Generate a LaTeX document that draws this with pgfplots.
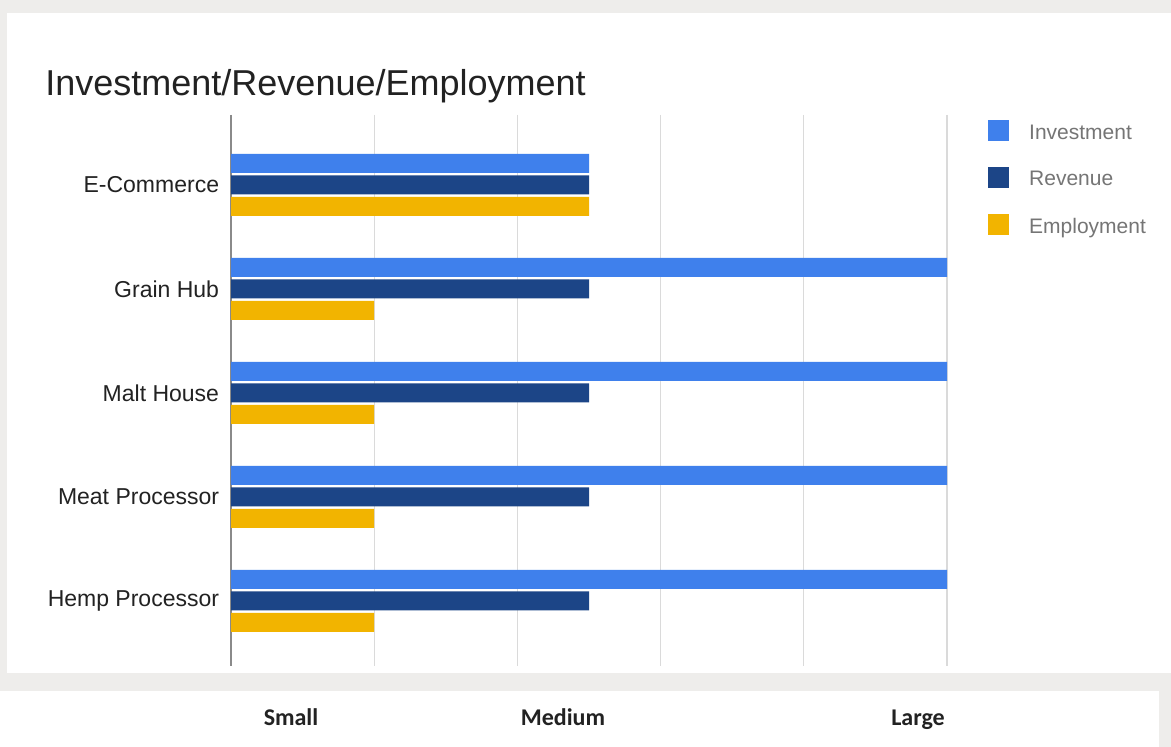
\documentclass[border=0pt]{standalone}
\usepackage{pgfplots}
\pgfplotsset{compat=1.18}
\usepackage{fontspec}
\setmainfont{Liberation Sans}
\newfontfamily\carlito{Carlito}
\definecolor{bggray}{HTML}{EEEDEB}
\definecolor{inv}{HTML}{3F80EC}
\definecolor{rev}{HTML}{1C4587}
\definecolor{emp}{HTML}{F2B400}
\definecolor{gridc}{HTML}{DADADA}
\definecolor{axc}{HTML}{8A8A8A}
\definecolor{lbl}{HTML}{222222}
\definecolor{legtxt}{HTML}{757575}
\begin{document}
\begin{tikzpicture}
\fill[bggray] (0,0) rectangle (585.5pt,373.5pt);
\fill[white] (3.5pt,37pt) rectangle (585.5pt,367pt);
\fill[white] (0,0) rectangle (579.5pt,28pt);
\node[anchor=base west, inner sep=0pt, font=\fontsize{18}{21}\selectfont, text=lbl] at (22.5pt,325.5pt) {Investment/Revenue/Employment};
\begin{axis}[
  at={(115.5pt,40.5pt)}, anchor=south west, scale only axis,
  width=358pt, height=275.5pt,
  xmin=0, xmax=5, ymin=-0.673, ymax=4.625, y dir=reverse,
  xbar, bar width=9.5pt,
  axis line style={draw=none},
  tick style={draw=none},
  xtick={1,2,3,4,5}, xticklabels={},
  xmajorgrids, grid style={draw=gridc, line width=0.6pt},
  extra x ticks={0}, extra x tick labels={},
  extra x tick style={grid style={draw=axc, line width=1pt}},
  ytick={0,1,2,3,4},
  yticklabels={E-Commerce,Grain Hub,Malt House,Meat Processor,Hemp Processor},
  yticklabel style={font=\fontsize{11.5}{13}\selectfont, text=lbl, inner sep=0pt, xshift=-1.5pt},
  legend cell align=left,
  legend style={at={(rel axis cs:1.057,0.991)}, anchor=north west, draw=none, fill=none,
    font=\fontsize{10.5}{12}\selectfont, text=legtxt, row sep=10.5pt, inner sep=0pt},
  legend image code/.code={\fill[#1,draw=none] (0pt,-4pt) rectangle (10.5pt,6.5pt); \path (18.5pt,0pt);},
]
\addplot[fill=inv, draw=none, bar shift=10.75pt] coordinates {(2.5,0) (5,1) (5,2) (5,3) (5,4)};
\addplot[fill=rev, draw=none, bar shift=0pt] coordinates {(2.5,0) (2.5,1) (2.5,2) (2.5,3) (2.5,4)};
\addplot[fill=emp, draw=none, bar shift=-10.75pt] coordinates {(2.5,0) (1,1) (1,2) (1,3) (1,4)};
\legend{Investment,Revenue,Employment}
\end{axis}
\node[anchor=base, font=\carlito\bfseries\fontsize{12}{14}\selectfont, text=lbl] at (145.5pt,10.5pt) {Small};
\node[anchor=base, font=\carlito\bfseries\fontsize{12}{14}\selectfont, text=lbl] at (281.5pt,10.5pt) {Medium};
\node[anchor=base, font=\carlito\bfseries\fontsize{12}{14}\selectfont, text=lbl] at (459pt,10.5pt) {Large};
\end{tikzpicture}
\end{document}
